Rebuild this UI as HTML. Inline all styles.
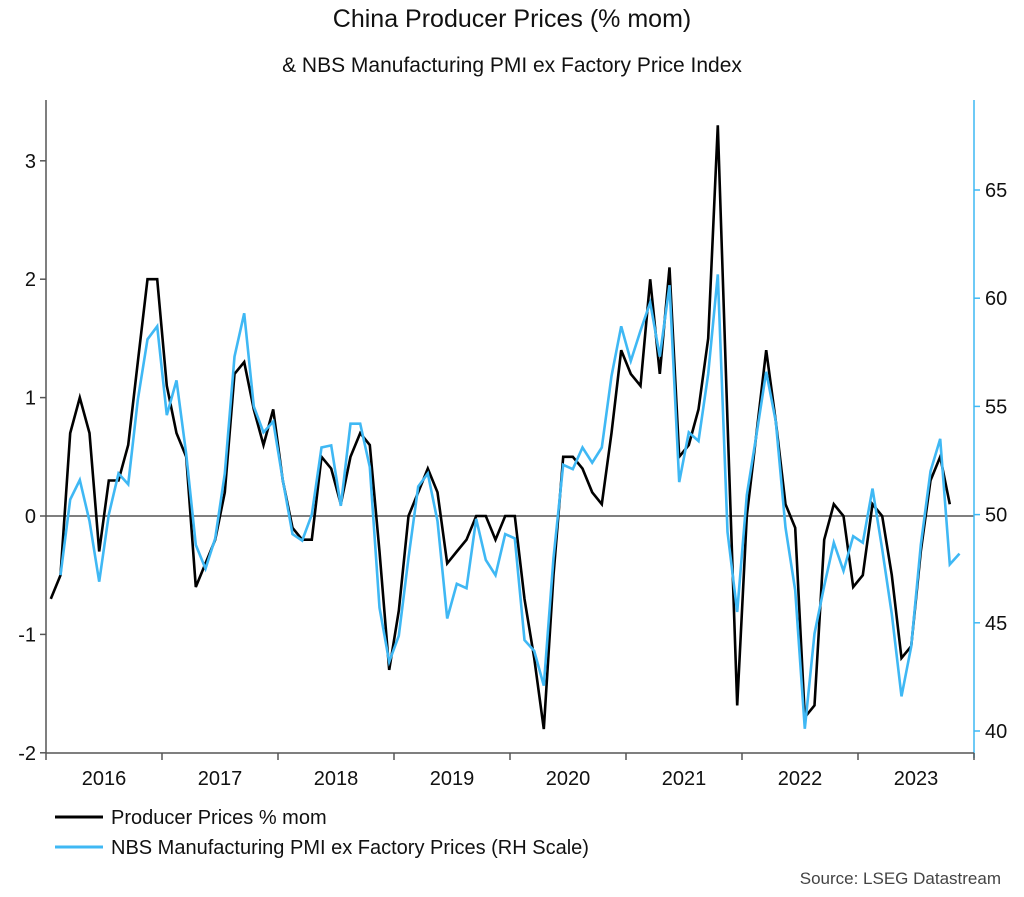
<!DOCTYPE html>
<html><head><meta charset="utf-8"><style>
body{margin:0;background:#fff;}
svg{display:block;font-family:"Liberation Sans",sans-serif;}
</style></head><body>
<svg id="chart" width="1024" height="897" viewBox="0 0 1024 897" xmlns="http://www.w3.org/2000/svg">
<text x="512" y="27" text-anchor="middle" font-size="25" fill="#111">China Producer Prices (% mom)</text>
<text x="512" y="72" text-anchor="middle" font-size="21" fill="#111">&amp; NBS Manufacturing PMI ex Factory Price Index</text>
<g id="axes"></g>
<g id="series"></g>
<g>
<line x1="55" y1="817" x2="103" y2="817" stroke="#000" stroke-width="3"/>
<text x="111" y="824" font-size="20" fill="#111">Producer Prices % mom</text>
<line x1="55" y1="847" x2="103" y2="847" stroke="#3fb8f4" stroke-width="3"/>
<text x="111" y="854" font-size="20" fill="#111">NBS Manufacturing PMI ex Factory Prices (RH Scale)</text>
</g>
<text x="1001" y="884" text-anchor="end" font-size="17" fill="#444">Source: LSEG Datastream</text>
</svg>
<script>
const years = ["2016","2017","2018","2019","2020","2021","2022","2023"];
const leftTicks = [-2,-1,0,1,2,3];
const rightTicks = [40,45,50,55,60,65];
const ppi = [-0.7,-0.5,0.7,1.0,0.7,-0.3,0.3,0.3,0.6,1.3,2.0,2.0,1.1,0.7,0.5,-0.6,-0.4,-0.2,0.2,1.2,1.3,0.9,0.6,0.9,0.3,-0.1,-0.2,-0.2,0.5,0.4,0.1,0.5,0.7,
0.6,-0.3,-1.3,-0.8,0.0,0.2,0.4,0.2,-0.4,-0.3,-0.2,0.0,0.0,-0.2,0.0,0.0,-0.7,-1.2,-1.8,-0.5,0.5,0.5,0.4,0.2,0.1,0.7,1.4,1.2,
1.1,2.0,1.2,2.1,0.5,0.6,0.9,1.5,3.3,0.8,-1.6,0.0,0.7,1.4,0.8,0.1,-0.1,-1.7,-1.6,-0.2,0.1,0.0,-0.6,-0.5,0.1,0.0,-0.5,-1.2,-1.1,-0.3,0.3,0.5,0.1];
const pmi = [null,47.2,50.7,51.6,49.7,46.9,50.0,51.9,51.4,55.3,58.1,58.7,54.6,56.2,52.8,48.6,47.5,48.9,51.9,57.3,59.3,55.0,53.8,54.3,51.6,49.1,48.8,50.0,53.1,53.2,50.4,54.2,54.2,
52.2,45.7,43.2,44.4,48.0,51.3,51.9,49.7,45.2,46.8,46.6,49.8,47.9,47.2,49.1,48.9,44.2,43.7,42.1,48.0,52.3,52.1,53.1,52.4,53.1,56.4,58.7,57.1,
58.5,59.8,57.3,60.6,51.5,53.8,53.4,56.5,61.1,49.2,45.5,50.9,53.7,56.6,54.3,49.4,46.5,40.1,44.5,46.7,48.7,47.4,49.0,48.7,51.2,48.4,45.4,41.6,43.9,48.6,52.0,53.5,47.7,48.2];

const NS="http://www.w3.org/2000/svg";
const X0=46, X1=974, YT=100, YB=753;
const monthW=(X1-X0)/(years.length*12);
const xm=i=>X0+monthW*(i+0.5);
const yl=v=>516-(v)*118.4;
const yr=v=>514.6-(v-50)*21.64;
function mk(tag,attrs,parent){const e=document.createElementNS(NS,tag);for(const k in attrs)e.setAttribute(k,attrs[k]);parent.appendChild(e);return e;}
const axes=document.getElementById('axes');
const series=document.getElementById('series');

// zero line
let z=mk('line',{x1:X0,x2:X1,y1:yl(0),y2:yl(0),stroke:'#555','stroke-width':1.5},axes);


// left axis
let la=mk('line',{x1:X0,x2:X0,y1:YT,y2:YB,stroke:'#555','stroke-width':1.5},axes);


leftTicks.forEach(v=>{
  const t=mk('line',{x1:X0-6,x2:X0,y1:yl(v),y2:yl(v),stroke:'#555','stroke-width':1.5},axes);
  
  
  const l=mk('text',{x:X0-10,y:yl(v)+7,'text-anchor':'end','font-size':20,fill:'#111'},axes);
  l.textContent=String(v);
  
  
});
// right axis
let ra=mk('line',{x1:X1,x2:X1,y1:YT,y2:YB+5,stroke:'#3fb8f4','stroke-width':1.5},axes);


rightTicks.forEach(v=>{
  const t=mk('line',{x1:X1,x2:X1+6,y1:yr(v),y2:yr(v),stroke:'#3fb8f4','stroke-width':1.5},axes);
  
  
  const l=mk('text',{x:X1+11,y:yr(v)+7,'font-size':20,fill:'#111'},axes);
  l.textContent=String(v);
  
  
});
// bottom axis
let ba=mk('line',{x1:X0,x2:X1,y1:YB,y2:YB,stroke:'#555','stroke-width':1.5},axes);


for(let k=0;k<=years.length;k++){
  const xx=X0+k*12*monthW;
  const t=mk('line',{x1:xx,x2:xx,y1:YB,y2:YB+7,stroke:'#555','stroke-width':1.5},axes);
  
  
}
years.forEach((y,k)=>{
  const l=mk('text',{x:X0+(k*12+6)*monthW,y:YB+32,'text-anchor':'middle','font-size':20,fill:'#111'},axes);
  l.textContent=y;
  
  
});
// series
function path(arr,fy){let d='',started=false;arr.forEach((v,i)=>{if(v===null){started=false;return;}d+=(started?'L':'M')+xm(i).toFixed(1)+' '+fy(v).toFixed(1)+' ';started=true;});return d;}
const pb=mk('path',{d:path(pmi,yr),fill:'none',stroke:'#3fb8f4','stroke-width':2.6,'stroke-linejoin':'miter'},series);


const pk=mk('path',{d:path(ppi,yl),fill:'none',stroke:'#000','stroke-width':2.6,'stroke-linejoin':'miter'},series);


series.insertBefore(pk,pb);
</script>
</body></html>
